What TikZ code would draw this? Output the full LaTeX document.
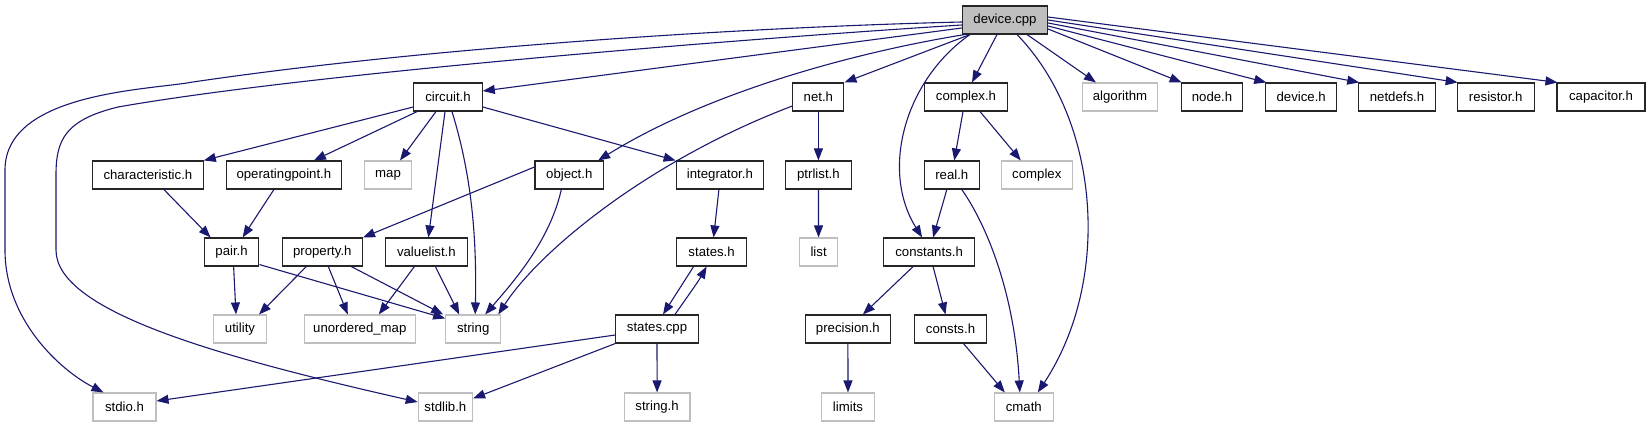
\documentclass[tikz,border=0pt]{standalone}
\usepackage{fontspec}
\setmainfont{Liberation Sans}
\usetikzlibrary{arrows.meta}
\definecolor{edgec}{HTML}{191970}
\definecolor{extc}{HTML}{BFBFBF}
\begin{document}
\begin{tikzpicture}[x=1pt,y=-1pt,
  box/.style={draw=black!85,line width=1.1pt,minimum height=28pt,inner sep=0pt,font=\fontsize{13.2}{15}\selectfont},
  ext/.style={box,draw=extc},
  e/.style={draw=edgec,line width=1.1pt,-{Triangle[length=12pt,width=9pt]}}]
\useasboundingbox[fill=white] (0,0) rectangle (1648,427);
% row 0
\node[box,fill=extc,minimum width=85pt] (dev) at (1005,20) {device.cpp};
% row 1
\node[box,minimum width=68.5pt] (circ) at (448,97) {circuit.h};
\node[box,minimum width=51pt] (net) at (818.4,97) {net.h};
\node[box,minimum width=83pt] (cplxh) at (966,97) {complex.h};
\node[ext,minimum width=75pt] (alg) at (1120,97) {algorithm};
\node[box,minimum width=61.6pt] (nodeh) at (1212,97) {node.h};
\node[box,minimum width=70.8pt] (devh) at (1301.2,97) {device.h};
\node[box,minimum width=76.5pt] (netdefs) at (1397,97) {netdefs.h};
\node[box,minimum width=77pt] (res) at (1495.7,97) {resistor.h};
\node[box,minimum width=88pt] (cap) at (1601,97) {capacitor.h};
% row 2
\node[box,minimum width=110.7pt] (char) at (147.9,175) {characteristic.h};
\node[box,minimum width=115pt] (op) at (283.9,175) {operatingpoint.h};
\node[ext,minimum width=47.5pt] (map) at (388,175) {map};
\node[box,minimum width=68.6pt] (obj) at (569.3,175) {object.h};
\node[box,minimum width=87.5pt] (integ) at (719.9,175) {integrator.h};
\node[box,minimum width=66pt] (ptr) at (818.4,175) {ptrlist.h};
\node[box,minimum width=55pt] (real) at (951.8,175) {real.h};
\node[ext,minimum width=71.4pt] (cplx) at (1036.8,175) {complex};
% row 3
\node[box,minimum width=54.6pt] (pair) at (231.6,252) {pair.h};
\node[box,minimum width=80.4pt] (prop) at (322.3,252) {property.h};
\node[box,minimum width=81.4pt] (vl) at (426.4,252) {valuelist.h};
\node[box,minimum width=69.6pt] (sth) at (711.6,252) {states.h};
\node[ext,minimum width=38.6pt] (list) at (818.6,252) {list};
\node[box,minimum width=91pt] (cnst) at (929.1,252) {constants.h};
% row 4
\node[ext,minimum width=53.6pt] (util) at (240,329) {utility};
\node[ext,minimum width=111pt] (umap) at (359.8,329) {unordered\_map};
\node[ext,minimum width=55pt] (str) at (473.2,329) {string};
\node[box,minimum width=82.5pt] (stcpp) at (657,329) {states.cpp};
\node[box,minimum width=85.7pt] (prec) at (847.9,329) {precision.h};
\node[box,minimum width=72.5pt] (cnsts) at (950.5,329) {consts.h};
% row 5
\node[ext,minimum width=63pt] (stdio) at (124.5,407) {stdio.h};
\node[ext,minimum width=54.3pt] (stdlib) at (445.4,407) {stdlib.h};
\node[ext,minimum width=65.7pt] (strh) at (657.1,407) {string.h};
\node[ext,minimum width=53.2pt] (limits) at (848,407) {limits};
\node[ext,minimum width=59pt] (cmath) at (1023.8,407) {cmath};

% device.cpp edges
\draw[e] ([yshift=-2pt]dev.west) .. controls (750,27) and (430,47) .. (193,82)
  .. controls (150,90) and (5,92) .. (5,170) -- (5,250)
  .. controls (5,320) and (60,370) .. ([xshift=11pt]stdio.north west);
\draw[e] ([yshift=-5pt]dev.west) .. controls (800,35) and (330,70) .. (118,107)
  .. controls (65,120) and (56,140) .. (56,175) -- (56,250)
  .. controls (56,310) and (210,355) .. ([yshift=5pt]stdlib.west);
\draw[e] ([yshift=-8pt]dev.west) -- ([yshift=6pt]circ.east);
\draw[e] ([xshift=3pt]dev.south west) .. controls (880,48) and (720,85) .. ([xshift=-6pt]obj.north east);
\draw[e] ([xshift=8pt]dev.south west) -- (net.north east);
\draw[e] ([xshift=8pt]dev.south west) .. controls (905,80) and (880,170) .. ([xshift=-7pt]cnst.north);
\draw[e] ([xshift=-8pt]dev.south) -- ([xshift=6pt]cplxh.north);
\draw[e] ([xshift=12pt]dev.south) .. controls (1100,120) and (1112,280) .. ([xshift=14pt]cmath.north);
\draw[e] ([xshift=22pt]dev.south) -- ([xshift=14pt]alg.north west);
\draw[e] ([yshift=-9pt]dev.east) -- ([xshift=1pt]nodeh.north west);
\draw[e] ([yshift=-6pt]dev.east) -- ([xshift=1pt]devh.north west);
\draw[e] ([yshift=-3pt]dev.east) -- ([xshift=1pt]netdefs.north west);
\draw[e] (dev.east) -- ([xshift=1pt]res.north west);
\draw[e] ([yshift=3pt]dev.east) -- ([xshift=1pt]cap.north west);
% circuit.h edges
\draw[e] ([yshift=-10pt]circ.west) -- (char.north east);
\draw[e] ([xshift=4pt]circ.south west) -- ([xshift=30pt]op.north);
\draw[e] ([xshift=-12pt]circ.south) -- ([xshift=12pt]map.north);
\draw[e] ([xshift=-3pt]circ.south) -- ([xshift=2pt]vl.north);
\draw[e] ([xshift=4pt]circ.south) .. controls (470,170) and (477,230) .. ([xshift=2pt]str.north);
\draw[e] ([yshift=-10pt]circ.east) -- (integ.north west);
% others
\draw[e] ([xshift=16pt]char.south) -- ([xshift=-21pt]pair.north);
\draw[e] ([xshift=-10pt]op.south) -- ([xshift=11pt]pair.north);
\draw[e] ([yshift=8pt]obj.west) -- (prop.north east);
\draw[e] ([xshift=-8pt]obj.south) .. controls (550,240) and (515,280) .. ([xshift=12pt]str.north);
\draw[e] ([yshift=-9pt]net.west) .. controls (650,160) and (540,250) .. ([xshift=-3pt]str.north east);
\draw[e] (net) -- (ptr);
\draw[e] ([xshift=-1pt]integ.south) -- ([xshift=2pt]sth.north);
\draw[e] (ptr) -- (list);
\draw[e] ([xshift=-3pt]cplxh.south) -- ([xshift=2.5pt]real.north);
\draw[e] ([xshift=14pt]cplxh.south) -- ([xshift=-16pt]cplx.north);
\draw[e] ([xshift=-5pt]real.south) -- ([xshift=4pt]cnst.north);
\draw[e] ([xshift=10pt]real.south) .. controls (990,230) and (1015,300) .. ([xshift=-4pt]cmath.north);
\draw[e] ([xshift=2pt]pair.south) -- ([xshift=-4pt]util.north);
\draw[e] ([yshift=2pt]pair.south east) -- ([yshift=-4pt]str.north west);
\draw[e] ([xshift=-16pt]prop.south) -- ([xshift=19pt]util.north);
\draw[e] ([xshift=6pt]prop.south) -- ([xshift=-12pt]umap.north);
\draw[e] ([xshift=29pt]prop.south) -- ([xshift=-2pt]str.north west);
\draw[e] ([xshift=-12pt]vl.south) -- ([xshift=19pt]umap.north);
\draw[e] ([xshift=9pt]vl.south) -- ([xshift=-14pt]str.north);
\draw[e] ([xshift=-18pt]sth.south) -- ([xshift=6pt]stcpp.north);
\draw[e] ([xshift=18pt]stcpp.north) .. controls (685,300) and (698,282) .. ([xshift=-5pt]sth.south);
\draw[e] ([yshift=-6pt]stcpp.west) -- ([yshift=6pt]stdio.east);
\draw[e] (stcpp.south west) -- ([yshift=-6pt]stdlib.north east);
\draw[e] (stcpp) -- (strh);
\draw[e] ([xshift=-16pt]cnst.south) -- ([xshift=15pt]prec.north);
\draw[e] ([xshift=4pt]cnst.south) -- ([xshift=-5pt]cnsts.north);
\draw[e] (prec) -- (limits);
\draw[e] ([xshift=13pt]cnsts.south) -- ([xshift=-19pt]cmath.north);
\end{tikzpicture}
\end{document}
